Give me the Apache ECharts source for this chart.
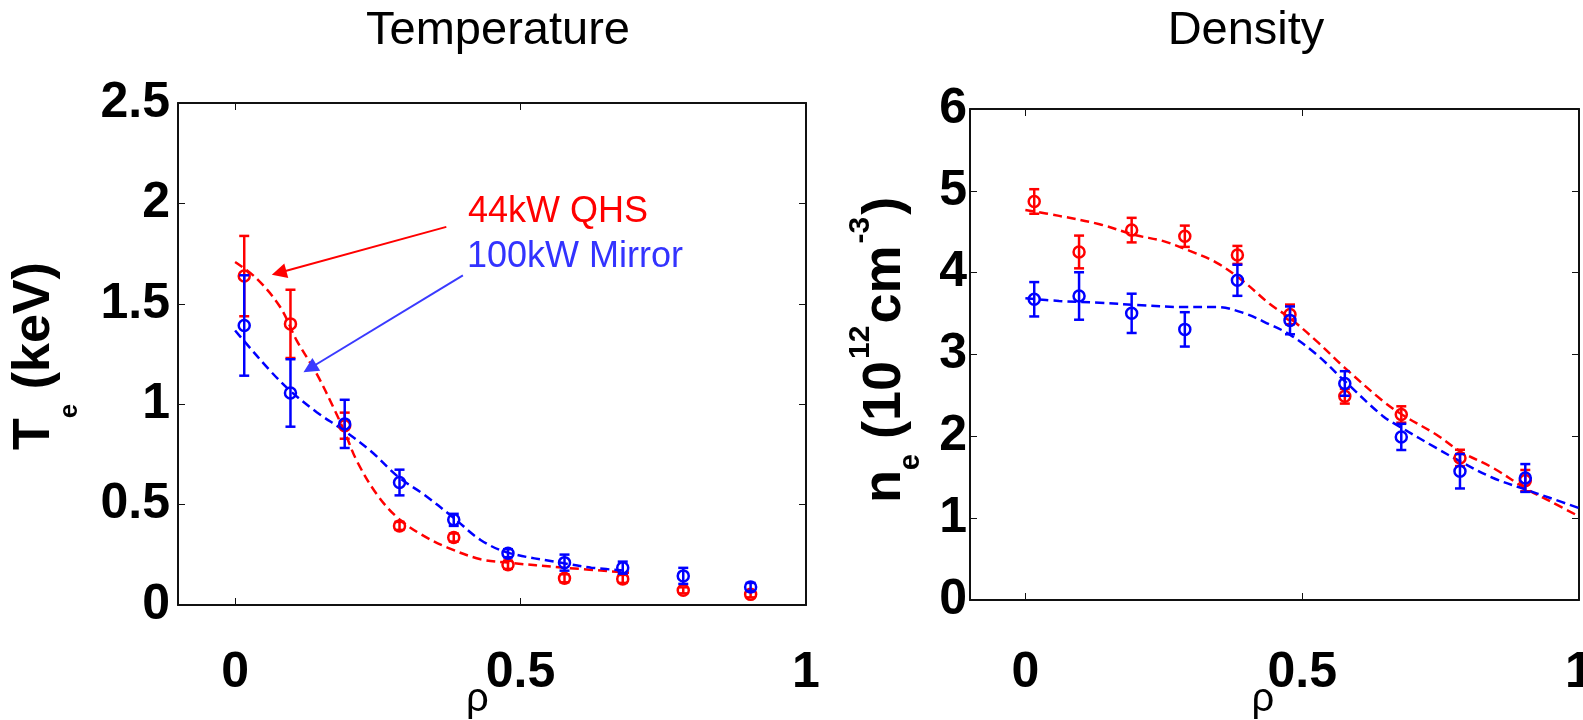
<!DOCTYPE html>
<html><head><meta charset="utf-8">
<script src="https://cdn.jsdelivr.net/npm/echarts@6/dist/echarts.min.js"></script>
<style>html,body{margin:0;padding:0;background:#fff}#c{width:1583px;height:720px}</style>
</head><body><div id="c"></div>
<script>
// ---- data ----
const rho = [0.016, 0.097, 0.192, 0.288, 0.383, 0.478, 0.577, 0.679, 0.785, 0.903];
const xTicks = [0, 0.5, 1];

const teQHS      = [1.638, 1.40, 0.893, 0.394, 0.336, 0.200, 0.133, 0.130, 0.073, 0.053];
const teQHSErr   = [0.20, 0.17, 0.065, 0.02, 0.02, 0.02, 0.02, 0.02, 0.015, 0.015];
const teMirror   = [1.392, 1.056, 0.902, 0.610, 0.424, 0.258, 0.211, 0.186, 0.145, 0.090];
const teMirrorErr= [0.25, 0.168, 0.12, 0.064, 0.03, 0.02, 0.04, 0.03, 0.04, 0.02];

const teFitQHSx = [0, 0.038, 0.079, 0.108, 0.143, 0.172, 0.191, 0.213, 0.248, 0.284, 0.325, 0.372, 0.43, 0.478, 0.576, 0.69];
const teFitQHSy = [1.708, 1.625, 1.484, 1.317, 1.151, 0.985, 0.868, 0.719, 0.552, 0.436, 0.353, 0.286, 0.228, 0.211, 0.186, 0.161];
const teFitMirx = [0, 0.015, 0.061, 0.096, 0.143, 0.191, 0.237, 0.287, 0.33, 0.382, 0.43, 0.478, 0.576, 0.624, 0.69];
const teFitMiry = [1.367, 1.317, 1.168, 1.068, 0.96, 0.868, 0.768, 0.635, 0.552, 0.436, 0.324, 0.261, 0.208, 0.186, 0.17];

const neQHS      = [4.87, 4.253, 4.52, 4.445, 4.217, 3.49, 2.49, 2.267, 1.736, 1.459];
const neQHSErr   = [0.15, 0.20, 0.15, 0.13, 0.11, 0.12, 0.09, 0.10, 0.10, 0.13];
const neMirror   = [3.675, 3.715, 3.503, 3.307, 3.907, 3.417, 2.646, 1.993, 1.573, 1.491];
const neMirrorErr= [0.21, 0.29, 0.24, 0.21, 0.19, 0.17, 0.15, 0.16, 0.21, 0.17];

const neFitQHSx = [0, 0.061, 0.134, 0.2, 0.248, 0.297, 0.345, 0.393, 0.441, 0.477, 0.526, 0.577, 0.646, 0.68, 0.742, 0.785, 0.845, 0.904, 0.948, 1.0];
const neFitQHSy = [4.767, 4.694, 4.592, 4.457, 4.388, 4.266, 4.123, 3.898, 3.62, 3.449, 3.164, 2.837, 2.43, 2.267, 2.022, 1.818, 1.613, 1.361, 1.206, 1.022];
const neFitMirx = [0, 0.061, 0.134, 0.2, 0.285, 0.345, 0.393, 0.441, 0.477, 0.526, 0.577, 0.646, 0.68, 0.742, 0.785, 0.845, 0.904, 0.948, 1.0];
const neFitMiry = [3.687, 3.654, 3.633, 3.605, 3.58, 3.58, 3.51, 3.368, 3.246, 3.0, 2.674, 2.246, 2.103, 1.858, 1.695, 1.491, 1.349, 1.246, 1.124];

// annotation arrows (data coordinates: start, arrow-head centre)
const arrowQHS = [[0.37, 1.883], [0.077, 1.655]];
const arrowMir = [[0.399, 1.642], [0.131, 1.179]];

// ---- styling ----
const FONT = 'Liberation Sans, Arial, Helvetica, sans-serif';
const RED = '#ff0000', BLUE = '#0000ff', BLUE_TXT = '#3333ff';
const AXC = '#111';

function pairs(xs, ys) { return xs.map((x, i) => [x, ys[i]]); }
function triples(xs, ys, es) { return xs.map((x, i) => [x, ys[i], es[i]]); }

function errRender(color) {
  return function (params, api) {
    const x = api.value(0), y = api.value(1), e = api.value(2);
    const c = api.coord([x, y]);
    const t = api.coord([x, y + e]);
    const b = api.coord([x, y - e]);
    const hw = 5, lw = 2.5;
    const st = { stroke: color, lineWidth: lw, fill: null };
    return { type: 'group', children: [
      { type: 'line', shape: { x1: c[0], y1: t[1], x2: c[0], y2: b[1] }, style: st },
      { type: 'line', shape: { x1: c[0] - hw, y1: t[1], x2: c[0] + hw, y2: t[1] }, style: st },
      { type: 'line', shape: { x1: c[0] - hw, y1: b[1], x2: c[0] + hw, y2: b[1] }, style: st },
      { type: 'circle', shape: { cx: c[0], cy: c[1], r: 5.5 }, style: { stroke: color, lineWidth: lw, fill: 'none' } }
    ]};
  };
}

function xAxisBottom(grid, nameGap, padR, margin) {
  return {
    gridIndex: grid, type: 'value', position: 'bottom', min: -0.1, max: 1,
    name: 'ρ', nameLocation: 'middle', nameGap: nameGap, nameMoveOverlap: false,
    nameTextStyle: { fontFamily: FONT, fontSize: 40, color: '#000', padding: [0, padR, 0, 0] },
    axisLine: { show: true, onZero: false, lineStyle: { color: AXC, width: 2 } },
    axisTick: { show: true, inside: true, length: 7, customValues: xTicks, lineStyle: { color: AXC, width: 1 } },
    axisLabel: { show: true, customValues: xTicks, margin: margin, fontFamily: FONT, fontSize: 50, fontWeight: 'bold', color: '#000' },
    splitLine: { show: false }
  };
}
function xAxisTop(grid) {
  return {
    gridIndex: grid, type: 'value', position: 'top', min: -0.1, max: 1,
    axisLine: { show: true, onZero: false, lineStyle: { color: AXC, width: 2 } },
    axisTick: { show: true, inside: true, length: 7, customValues: xTicks, lineStyle: { color: AXC, width: 1 } },
    axisLabel: { show: false }, splitLine: { show: false }
  };
}
function yAxisLeft(grid, max, interval, margin) {
  return {
    gridIndex: grid, type: 'value', position: 'left', min: 0, max: max, interval: interval,
    axisLine: { show: true, onZero: false, lineStyle: { color: AXC, width: 2 } },
    axisTick: { show: true, inside: true, length: 7, lineStyle: { color: AXC, width: 1 } },
    axisLabel: { show: true, margin: margin, fontFamily: FONT, fontSize: 50, fontWeight: 'bold', color: '#000' },
    splitLine: { show: false }
  };
}
function yAxisRight(grid, max, interval) {
  return {
    gridIndex: grid, type: 'value', position: 'right', min: 0, max: max, interval: interval,
    axisLine: { show: true, onZero: false, lineStyle: { color: AXC, width: 2 } },
    axisTick: { show: true, inside: true, length: 7, lineStyle: { color: AXC, width: 1 } },
    axisLabel: { show: false }, splitLine: { show: false }
  };
}

function fitLine(name, xs, ys, color, xi, yi, extra) {
  return Object.assign({
    name: name, type: 'line', xAxisIndex: xi, yAxisIndex: yi,
    data: pairs(xs, ys), smooth: 0.35, showSymbol: false, symbol: 'none', silent: true,
    lineStyle: { color: color, width: 2.5, type: [9, 5] }, z: 3
  }, extra || {});
}
function errSeries(name, ys, es, color, xi, yi) {
  return {
    name: name, type: 'custom', xAxisIndex: xi, yAxisIndex: yi,
    data: triples(rho, ys, es), renderItem: errRender(color),
    encode: { x: 0, y: 1 }, silent: true, z: 4
  };
}
function arrowMark(seg, color) {
  return {
    silent: true, symbol: ['none', 'triangle'], symbolSize: 15,
    label: { show: false }, emphasis: { disabled: true },
    itemStyle: { color: color },
    lineStyle: { color: color, width: 2, type: 'solid' },
    data: [[{ coord: seg[0] }, { coord: seg[1] }]]
  };
}

const chart = echarts.init(document.getElementById('c'), null, { renderer: 'canvas' });
chart.setOption({
  animation: false,
  backgroundColor: '#fff',
  grid: [
    { left: 178, top: 103, width: 628, height: 502, containLabel: false, outerBoundsMode: 'none' },
    { left: 970, top: 109, width: 609, height: 491, containLabel: false, outerBoundsMode: 'none' }
  ],
  xAxis: [ xAxisBottom(0, 75, 29, 43), xAxisTop(0), xAxisBottom(1, 80, 23, 48), xAxisTop(1) ],
  yAxis: [ yAxisLeft(0, 2.5, 0.5, 8), yAxisRight(0, 2.5, 0.5), yAxisLeft(1, 6, 1, 3), yAxisRight(1, 6, 1) ],
  series: [
    fitLine('Te fit QHS', teFitQHSx, teFitQHSy, RED, 0, 0, { markLine: arrowMark(arrowQHS, RED) }),
    errSeries('Te 44kW QHS', teQHS, teQHSErr, RED, 0, 0),
    fitLine('Te fit Mirror', teFitMirx, teFitMiry, BLUE, 0, 0, { markLine: arrowMark(arrowMir, '#3a3aff') }),
    errSeries('Te 100kW Mirror', teMirror, teMirrorErr, BLUE, 0, 0),
    fitLine('ne fit QHS', neFitQHSx, neFitQHSy, RED, 2, 2),
    errSeries('ne 44kW QHS', neQHS, neQHSErr, RED, 2, 2),
    fitLine('ne fit Mirror', neFitMirx, neFitMiry, BLUE, 2, 2),
    errSeries('ne 100kW Mirror', neMirror, neMirrorErr, BLUE, 2, 2)
  ],
  graphic: [
    { type: 'text', x: 498, y: 31, silent: true,
      style: { text: 'Temperature', font: '47px ' + FONT, fill: '#000', align: 'center', verticalAlign: 'middle' } },
    { type: 'text', x: 1246, y: 31, silent: true,
      style: { text: 'Density', font: '47px ' + FONT, fill: '#000', align: 'center', verticalAlign: 'middle' } },
    { type: 'text', x: 468, y: 212, silent: true,
      style: { text: '44kW QHS', font: '36px ' + FONT, fill: RED, align: 'left', verticalAlign: 'middle' } },
    { type: 'text', x: 467, y: 257, silent: true,
      style: { text: '100kW Mirror', font: '36px ' + FONT, fill: BLUE_TXT, align: 'left', verticalAlign: 'middle' } },
    { type: 'text', x: 35, y: 356, rotation: Math.PI / 2, silent: true,
      style: {
        text: '{m|T}{s|e}{m| (keV)}', fill: '#000', align: 'center', verticalAlign: 'middle',
        rich: {
          m: { fontSize: 52, fontWeight: 'bold', fontFamily: FONT, lineHeight: 52, verticalAlign: 'middle' },
          s: { fontSize: 26, fontWeight: 'bold', fontFamily: FONT, lineHeight: 26, padding: [70, 0, 0, 0], verticalAlign: 'middle' }
        }
      } },
    { type: 'text', x: 885, y: 350, rotation: Math.PI / 2, silent: true,
      style: {
        text: '{m|n}{s|e}{m| (10}{p|12}{m|cm}{p|-3}{m|)}', fill: '#000', align: 'center', verticalAlign: 'middle',
        rich: {
          m: { fontSize: 54, fontWeight: 'bold', fontFamily: FONT, lineHeight: 54, verticalAlign: 'middle' },
          s: { fontSize: 29, fontWeight: 'bold', fontFamily: FONT, lineHeight: 29, padding: [52, 0, 0, 0], verticalAlign: 'middle' },
          p: { fontSize: 30, fontWeight: 'bold', fontFamily: FONT, lineHeight: 30, padding: [0, 2, 48, 2], verticalAlign: 'middle' }
        }
      } }
  ]
});
</script>
</body></html>
